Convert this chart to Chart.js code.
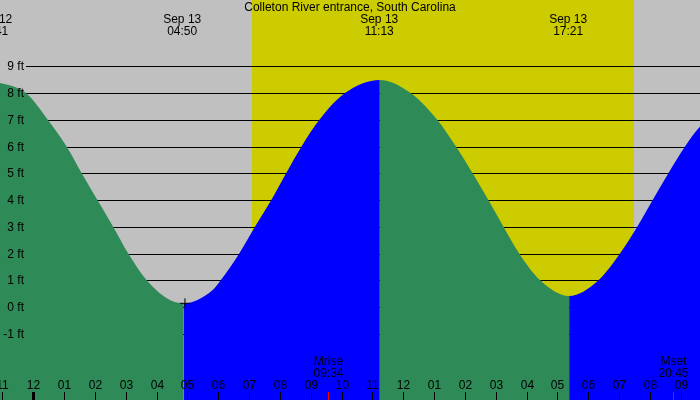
<!DOCTYPE html>
<html>
<head>
<meta charset="utf-8">
<title>Colleton River entrance tide</title>
<script src="https://cdn.jsdelivr.net/npm/chart.js@4.4.1/dist/chart.umd.min.js"></script>
<style>
  html, body { margin: 0; padding: 0; background: #c0c0c0; }
  #wrap { width: 700px; height: 400px; position: relative; }
</style>
</head>
<body>
<div id="wrap"><canvas id="tideChart"></canvas></div>
<script>
// hours counted from Sep 13 00:00 (negative = Sep 12)
const tideHours = [-1.30, -0.24, 0.47, 1.08, 1.57, 2.08, 2.59, 3.08, 3.68, 4.43, 4.87,
  5.82, 6.08, 6.68, 7.19, 7.72, 8.20, 8.70, 9.28, 10.11, 11.24,
  12.24, 13.10, 13.71, 14.25, 14.76, 15.25, 15.76, 16.44, 17.38,
  18.33, 19.03, 19.59, 20.09, 20.60, 21.14, 21.62, 23.60];
const tideFeet = [8.45, 8.0, 7.0, 6.0, 5.0, 4.0, 3.0, 2.0, 1.0, 0.26, 0.14,
  0.64, 1.0, 2.0, 3.0, 4.0, 5.0, 6.0, 7.0, 8.0, 8.49,
  8.0, 7.0, 6.0, 5.0, 4.0, 3.0, 2.0, 1.0, 0.41,
  1.0, 2.0, 3.0, 4.0, 5.0, 6.0, 6.74, 8.35];

// high / low tide labels at the top
const extremeHours = [-1.30, 4.83, 11.22, 17.35];
const extremeDates = ['Sep 12', 'Sep 13', 'Sep 13', 'Sep 13'];
const extremeTimes = ['22:41', '04:50', '11:13', '17:21'];

// moon rise / set
const moonHours = [9.57, 20.75];
const moonNames = ['Mrise', 'Mset'];
const moonTimes = ['09:34', '20:45'];

// daylight
const sunrise = 7.09;
const sunset = 19.48;

// current time marker
const nowHour = 4.92;
const nowFeet = 0.14;

// axis ticks
const xTickHours = [-1, 0, 1, 2, 3, 4, 5, 6, 7, 8, 9, 10, 11, 12, 13, 14, 15, 16, 17, 18, 19, 20, 21];
const xTickLabels = ['11', '12', '01', '02', '03', '04', '05', '06', '07', '08', '09', '10',
  '11', '12', '01', '02', '03', '04', '05', '06', '07', '08', '09'];
const yTickFeet = [-1, 0, 1, 2, 3, 4, 5, 6, 7, 8, 9];

const title = 'Colleton River entrance, South Carolina';
const FONT = '12px "Liberation Sans", Arial, sans-serif';
const RISING = '#0000ff';
const FALLING = '#2e8b57';

const tidePlugin = {
  id: 'tideDecor',
  beforeDatasetsDraw(chart) {
    const { ctx, chartArea: a, scales: { x, y } } = chart;
    ctx.save();
    // night
    ctx.fillStyle = '#c0c0c0';
    ctx.fillRect(a.left, a.top, a.right - a.left, a.bottom - a.top);
    // day
    const x0 = Math.round(x.getPixelForValue(sunrise));
    const x1 = Math.round(x.getPixelForValue(sunset));
    ctx.fillStyle = '#cccc00';
    ctx.fillRect(x0, a.top, x1 - x0, a.bottom - a.top);
    // grid lines (hidden under the water)
    ctx.strokeStyle = '#000';
    ctx.lineWidth = 1;
    yTickFeet.forEach(v => {
      const py = Math.round(y.getPixelForValue(v)) + 0.5;
      ctx.beginPath();
      ctx.moveTo(26, py);
      ctx.lineTo(a.right, py);
      ctx.stroke();
    });
    ctx.restore();
  },
  afterDatasetsDraw(chart) {
    const { ctx, chartArea: a, scales: { x, y } } = chart;
    ctx.save();
    ctx.font = FONT;
    ctx.fillStyle = '#000';
    ctx.textBaseline = 'middle';

    // y labels
    ctx.textAlign = 'right';
    yTickFeet.forEach(v => {
      ctx.fillText(v + ' ft', 24, Math.round(y.getPixelForValue(v)) + 0.5);
    });

    // x labels and ticks
    ctx.textAlign = 'center';
    xTickHours.forEach((h, i) => {
      const px = Math.round(x.getPixelForValue(h));
      ctx.fillText(xTickLabels[i], px + 0.5, 386);
      const w = h === 0 ? 3 : 1;
      ctx.fillRect(px - Math.floor(w / 2), 392, w, a.bottom - 392);
    });

    // moon
    moonHours.forEach((h, i) => {
      const px = Math.round(x.getPixelForValue(h));
      ctx.fillStyle = '#000';
      ctx.fillText(moonNames[i], px + 0.5, 362);
      ctx.fillText(moonTimes[i], px + 0.5, 374);
      ctx.fillStyle = '#ff0000';
      ctx.fillRect(px, 392, 1, a.bottom - 392);
    });

    // high / low labels
    ctx.fillStyle = '#000';
    extremeHours.forEach((h, i) => {
      const px = x.getPixelForValue(h);
      ctx.fillText(extremeDates[i], px, 20);
      ctx.fillText(extremeTimes[i], px, 32);
    });

    // title
    ctx.fillText(title, (a.left + a.right) / 2, 8);
    ctx.restore();
  }
};

new Chart(document.getElementById('tideChart').getContext('2d'), {
  type: 'line',
  data: {
    datasets: [{
      label: 'now',
      type: 'scatter',
      data: [{ x: nowHour, y: nowFeet }],
      pointStyle: 'cross',
      pointRadius: 5,
      borderColor: '#000',
      borderWidth: 1,
      showLine: false,
      fill: false,
      order: 0
    }, {
      label: 'tide',
      data: tideHours.map((h, i) => ({ x: h, y: tideFeet[i] })),
      borderWidth: 0,
      pointRadius: 0,
      fill: 'start',
      backgroundColor: FALLING,
      cubicInterpolationMode: 'monotone',
      segment: {
        backgroundColor: c => c.p1.parsed.y > c.p0.parsed.y ? RISING : FALLING
      },
      order: 1
    }]
  },
  options: {
    responsive: true,
    maintainAspectRatio: false,
    animation: false,
    events: [],
    layout: { padding: 0, autoPadding: false },
    elements: { line: { capBezierPoints: false } },
    plugins: {
      legend: { display: false },
      tooltip: { enabled: false },
      title: { display: false }
    },
    scales: {
      x: { type: 'linear', min: -1.08, max: 21.625, display: false },
      y: { type: 'linear', min: -3.475, max: 11.48, display: false }
    }
  },
  plugins: [tidePlugin]
});
</script>
</body>
</html>
